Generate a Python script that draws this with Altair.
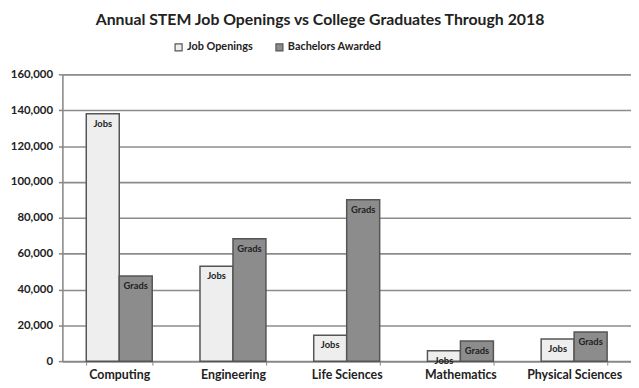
import altair as alt
import pandas as pd

categories = ["Computing", "Engineering", "Life Sciences", "Mathematics", "Physical Sciences"]
jobs = [138000, 53000, 14500, 5800, 12300]
grads = [47500, 68300, 90000, 11200, 16300]
series = ["Job Openings", "Bachelors Awarded"]
bar_labels = ["Jobs", "Grads"]

rows = []
for i, c in enumerate(categories):
    rows.append({"category": c, "series": series[0], "value": jobs[i], "label": bar_labels[0]})
    rows.append({"category": c, "series": series[1], "value": grads[i], "label": bar_labels[1]})
df = pd.DataFrame(rows)

FONT = "Lato"

x = alt.X("category:N", sort=categories, title=None,
          scale=alt.Scale(paddingInner=0.42, paddingOuter=0.21),
          axis=alt.Axis(labelFont=FONT, labelFontSize=12.5, labelFontWeight="bold", labelColor="#222",
                        labelAngle=0, domainColor="#888", domainWidth=1.5, tickColor="#888",
                        tickBand="extent", tickSize=4, labelPadding=4))
xo = alt.XOffset("series:N", sort=series, scale=alt.Scale(paddingInner=0, paddingOuter=0))
y = alt.Y("value:Q", title=None,
          scale=alt.Scale(domain=[0, 160000], nice=False),
          axis=alt.Axis(values=list(range(0, 160001, 20000)), format=",.0f", labelFont=FONT,
                        labelFontSize=11.5, labelFontWeight="bold", labelColor="#222",
                        gridColor="#8c8c8c", gridWidth=1.6, domainColor="#888", domainWidth=1.5,
                        tickColor="#8c8c8c", tickWidth=1.6, tickSize=4, labelPadding=6,
                        minExtent=55, maxExtent=55))

bars = alt.Chart(df).mark_bar(stroke="#555", strokeWidth=1.5).encode(
    x=x, xOffset=xo, y=y,
    color=alt.Color("series:N", sort=series,
                    scale=alt.Scale(domain=series, range=["#eeeeee", "#8c8c8c"]),
                    legend=alt.Legend(title=None, orient="none", direction="horizontal",
                                      legendX=112, legendY=-33, symbolType="square",
                                      symbolSize=50, symbolStrokeColor="#555", symbolStrokeWidth=1.2,
                                      labelFont=FONT, labelFontSize=11, labelFontWeight="bold",
                                      labelColor="#222", columnPadding=20, labelOffset=3)),
)

texts = alt.Chart(df).mark_text(baseline="top", dy=5, font=FONT, fontSize=9.5,
                                fontWeight="bold", color="#222").encode(
    x=x, xOffset=xo, y=y, text="label:N"
)

chart = (bars + texts).properties(
    width=575, height=290,
    padding={"left": 0, "top": 2, "right": 0, "bottom": 0},
    title=alt.TitleParams("Annual STEM Job Openings vs College Graduates Through 2018",
                          font=FONT, fontSize=16, fontWeight="bold", color="#222",
                          anchor="middle", offset=14, dx=-27),
).configure_view(stroke=None).configure(background="white")

chart.save("out.html", embed_options={"renderer": "svg", "actions": False})
